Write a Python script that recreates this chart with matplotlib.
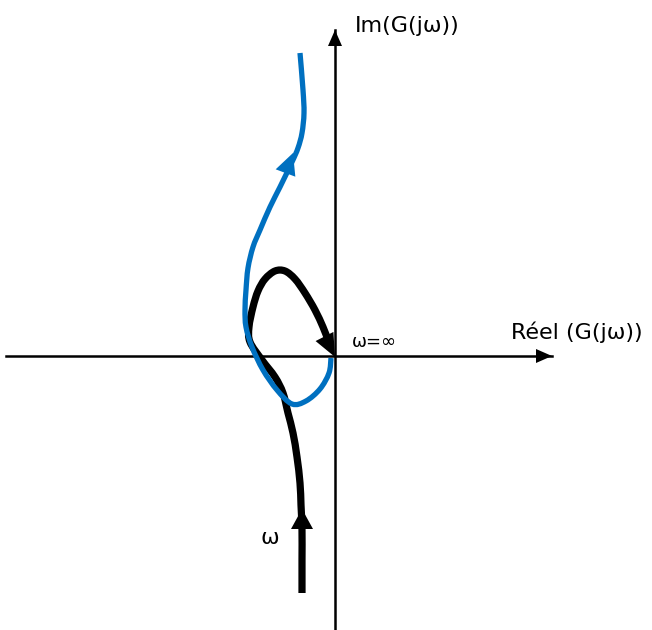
import matplotlib.pyplot as plt
from matplotlib.path import Path
from matplotlib.patches import PathPatch, Polygon
import numpy as np

# sketch coordinates (pixel-like units, y grows downward)
origin = (335, 356)
real_axis_x = [6, 552]
imag_axis_y = [630, 30]

# low-frequency branch (black), from the bottom up to omega = inf at the origin
black_x = [302, 302, 302, 301, 300, 297, 293, 288, 283, 275, 262, 250, 249, 253, 258, 265, 275, 285, 295, 305, 315, 323, 328]
black_y = [593, 560, 530, 505, 483, 457, 433, 413, 393, 377, 360, 342, 327, 307, 291, 279, 271, 271, 279, 293, 310, 327, 340]

# second locus (blue), starting next to the origin
blue_x = [331, 329, 320, 306, 292, 277, 263, 252, 246, 245, 246, 248, 253, 260, 270, 280, 292, 298, 302, 304, 303, 300]
blue_y = [358, 373, 389, 401, 404, 390, 370, 347, 327, 310, 290, 268, 247, 230, 207, 187, 162, 148, 133, 113, 90, 53]


def smooth_path(xs, ys):
    # cubic bezier through every point (catmull-rom tangents)
    pts = np.column_stack([xs, ys]).astype(float)
    ext = np.vstack([pts[0], pts, pts[-1]])
    verts = [pts[0]]
    codes = [Path.MOVETO]
    for i in range(1, len(ext) - 2):
        p0, p1, p2, p3 = ext[i - 1], ext[i], ext[i + 1], ext[i + 2]
        verts += [p1 + (p2 - p0) / 6, p2 - (p3 - p1) / 6, p2]
        codes += [Path.CURVE4] * 3
    return Path(verts, codes)


def head(ax, tip, base, half_width, color):
    tip = np.array(tip, float)
    base = np.array(base, float)
    d = tip - base
    n = np.array([-d[1], d[0]]) / np.hypot(*d)
    ax.add_patch(Polygon([tip, base + n * half_width, base - n * half_width],
                         closed=True, color=color, lw=0, zorder=6))


fig = plt.figure(figsize=(6.52, 6.30), dpi=100)
ax = fig.add_axes([0, 0, 1, 1])
ax.set_xlim(0, 652)
ax.set_ylim(630, 0)
ax.axis('off')

# axes with arrowheads
ax.plot(real_axis_x, [origin[1], origin[1]], color='black', lw=1.8, zorder=1)
ax.plot([origin[0], origin[0]], imag_axis_y, color='black', lw=1.8, zorder=1)
head(ax, (real_axis_x[1], origin[1]), (real_axis_x[1] - 16, origin[1]), 7, 'black')
head(ax, (origin[0], imag_axis_y[1]), (origin[0], imag_axis_y[1] + 16), 7, 'black')

ax.add_patch(PathPatch(smooth_path(black_x, black_y), fill=False, ec='black', lw=5.2,
                       capstyle='butt', joinstyle='round', zorder=3))
ax.add_patch(PathPatch(smooth_path(blue_x, blue_y), fill=False, ec='#0070c0', lw=3.8,
                       capstyle='butt', joinstyle='round', zorder=4))

# direction arrowheads on the loci
head(ax, (302, 509), (302, 529), 11, 'black')
head(ax, (335, 357), (324.5, 336.5), 10, 'black')
head(ax, (293, 153), (285.5, 173), 10.5, '#0070c0')

ax.text(355, 26, 'Im(G(jω))', fontsize=16, va='center', ha='left')
ax.text(511, 332, 'Réel (G(jω))', fontsize=16, va='center', ha='left')
ax.text(352, 342, 'ω=∞', fontsize=13, va='center', ha='left')
ax.text(260, 538, 'ω', fontsize=16, va='center', ha='left')

fig.savefig('out.png', dpi=100)
